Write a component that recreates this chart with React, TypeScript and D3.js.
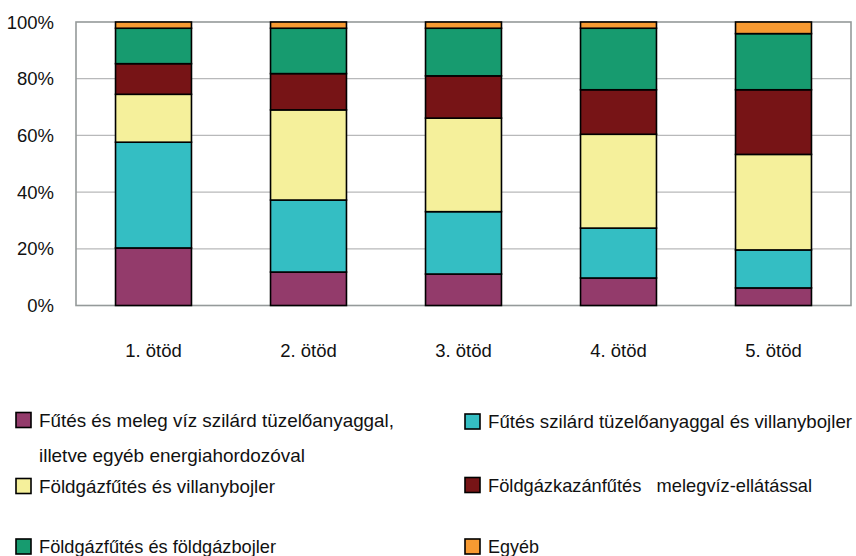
import React from "react";
import * as d3 from "d3";

const categories = ["1. ötöd", "2. ötöd", "3. ötöd", "4. ötöd", "5. ötöd"];
const seriesNames = [
  "Fűtés és meleg víz szilárd tüzelőanyaggal, illetve egyéb energiahordozóval",
  "Fűtés szilárd tüzelőanyaggal és villanybojler",
  "Földgázfűtés és villanybojler",
  "Földgázkazánfűtés   melegvíz-ellátással",
  "Földgázfűtés és földgázbojler",
  "Egyéb",
];
const solidFuel = [20.3, 11.8, 11.1, 9.7, 6.2];
const solidElectric = [37.3, 25.4, 22.0, 17.6, 13.4];
const gasElectric = [16.9, 31.8, 33.0, 33.1, 33.7];
const gasBoiler = [10.8, 12.8, 14.9, 15.7, 22.8];
const gasGas = [12.5, 16.0, 16.8, 21.7, 19.8];
const other = [2.2, 2.2, 2.2, 2.2, 4.1];
const yTicks = [0, 20, 40, 60, 80, 100];
const colors = ["#933b6b", "#34bec3", "#f5f09b", "#771416", "#179b6f", "#f79a32"];

const seriesValues = [solidFuel, solidElectric, gasElectric, gasBoiler, gasGas, other];

export default function App() {
  const W = 856, H = 556;
  const left = 76, right = 851, top = 22, bottom = 305.5;
  const font = "'Liberation Sans', Arial, sans-serif";
  const fs = 18.5;

  const x = d3.scaleBand<string>().domain(categories).range([left, right]).paddingInner(0.51).paddingOuter(0.255);
  const y = d3.scaleLinear().domain([0, 100]).range([bottom, top]);

  const rows = categories.map((c, i) => {
    const r: any = { cat: c };
    seriesValues.forEach((s, k) => (r["s" + k] = s[i]));
    return r;
  });
  const stack = d3.stack<any>().keys(seriesValues.map((_, k) => "s" + k));
  const layers = stack(rows);

  const legend = [
    { k: 0, x: 16, y: 420, lines: ["Fűtés és meleg víz szilárd tüzelőanyaggal,", "illetve egyéb energiahordozóval"], tl: [355, 266] },
    { k: 1, x: 465, y: 421.5, lines: ["Fűtés szilárd tüzelőanyaggal és villanybojler"], tl: [364] },
    { k: 2, x: 16, y: 486, lines: ["Földgázfűtés és villanybojler"], tl: [236] },
    { k: 3, x: 465, y: 485, lines: ["Földgázkazánfűtés   melegvíz-ellátással"], tl: [324] },
    { k: 4, x: 16, y: 546.5, lines: ["Földgázfűtés és földgázbojler"], tl: [237] },
    { k: 5, x: 465, y: 546.5, lines: ["Egyéb"], tl: [51] },
  ];

  return (
    <svg width={W} height={H} style={{ position: "absolute", left: 0, top: 0 }} fontFamily={font}>
      <rect x={0} y={0} width={W} height={H} fill="#fff" />
      {yTicks.map((t) => (
        <g key={t}>
          {t > 0 && t < 100 && (
            <line x1={left} x2={right} y1={y(t)} y2={y(t)} stroke="#b8b9ba" strokeWidth={1.2} />
          )}
          <text x={54} y={y(t)} dy="0.36em" textAnchor="end" fontSize={fs} fill="#111">
            {t + "%"}
          </text>
        </g>
      ))}
      <rect x={left} y={top} width={right - left} height={bottom - top} fill="none" stroke="#959a9a" strokeWidth={1.6} />
      {layers.map((layer, k) => (
        <g key={k}>
          {layer.map((d, i) => (
            <rect
              key={i}
              x={x(categories[i])}
              y={y(d[1])}
              width={x.bandwidth()}
              height={y(d[0]) - y(d[1])}
              fill={colors[k]}
              stroke="#000"
              strokeWidth={1.6}
            />
          ))}
        </g>
      ))}
      {categories.map((c) => (
        <text key={c} x={(x(c) as number) + x.bandwidth() / 2} y={350.5} dy="0.36em" textAnchor="middle" fontSize={fs} fill="#111">
          {c}
        </text>
      ))}
      {legend.map((l) => (
        <g key={l.k}>
          <rect x={l.x} y={l.y - 7.5} width={15} height={15} fill={colors[l.k]} stroke="#000" strokeWidth={1.6} />
          {l.lines.map((t, j) => (
            <text key={j} x={l.x + 23} y={l.y + j * 35} dy="0.36em" fontSize={fs} fill="#111" textLength={l.tl[j]} lengthAdjust="spacingAndGlyphs" style={{ whiteSpace: "pre" }}>
              {t}
            </text>
          ))}
        </g>
      ))}
    </svg>
  );
}
